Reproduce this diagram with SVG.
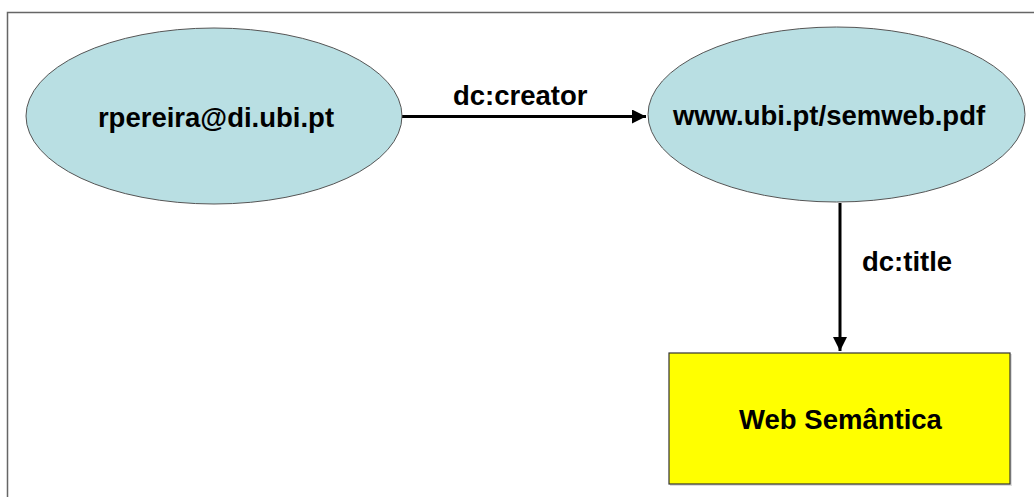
<svg xmlns="http://www.w3.org/2000/svg" width="1034" height="497" viewBox="0 0 1034 497">
<style>
  .lbl { font-family: "Liberation Sans", Arial, sans-serif; font-weight: bold; font-size: 27.5px; fill: #000; }
  .ell { fill: #B9DFE3; stroke: #555; stroke-width: 1; }
  .box { fill: #FFFF00; stroke: #333; stroke-width: 1.2; }
  .edge { stroke: #000; stroke-width: 3; fill: none; }
</style>
<defs>
  <marker id="arr" markerUnits="userSpaceOnUse" markerWidth="16" markerHeight="16" refX="14" refY="7" orient="auto">
    <path d="M0,0 L14,7 L0,14 Z" fill="#000"/>
  </marker>
</defs>
<rect width="1034" height="497" fill="#fff"/>
<path d="M7.5,497 L7.5,12.5 L1034,12.5" fill="none" stroke="#666" stroke-width="1.5"/>
<g id="connectors">
  <line class="edge" x1="402" y1="116.5" x2="646" y2="116.5" marker-end="url(#arr)"/>
  <text class="lbl" x="453" y="105">dc:creator</text>
  <line class="edge" x1="840" y1="203" x2="840" y2="351" marker-end="url(#arr)"/>
  <text class="lbl" x="862" y="271">dc:title</text>
</g>
<g id="node-creator">
  <ellipse class="ell" cx="214" cy="116" rx="188" ry="88"/>
  <text class="lbl" x="216" y="127" text-anchor="middle">rpereira@di.ubi.pt</text>
</g>
<g id="node-doc">
  <ellipse class="ell" cx="836.5" cy="114.5" rx="188.5" ry="87.5"/>
  <text class="lbl" x="829" y="125" text-anchor="middle">www.ubi.pt/semweb.pdf</text>
</g>
<g id="node-title">
  <rect x="670" y="354" width="342" height="132" fill="#ddd"/>
  <rect class="box" x="669" y="353" width="341" height="131"/>
  <text class="lbl" x="840.5" y="429" text-anchor="middle">Web Semântica</text>
</g>
</svg>
